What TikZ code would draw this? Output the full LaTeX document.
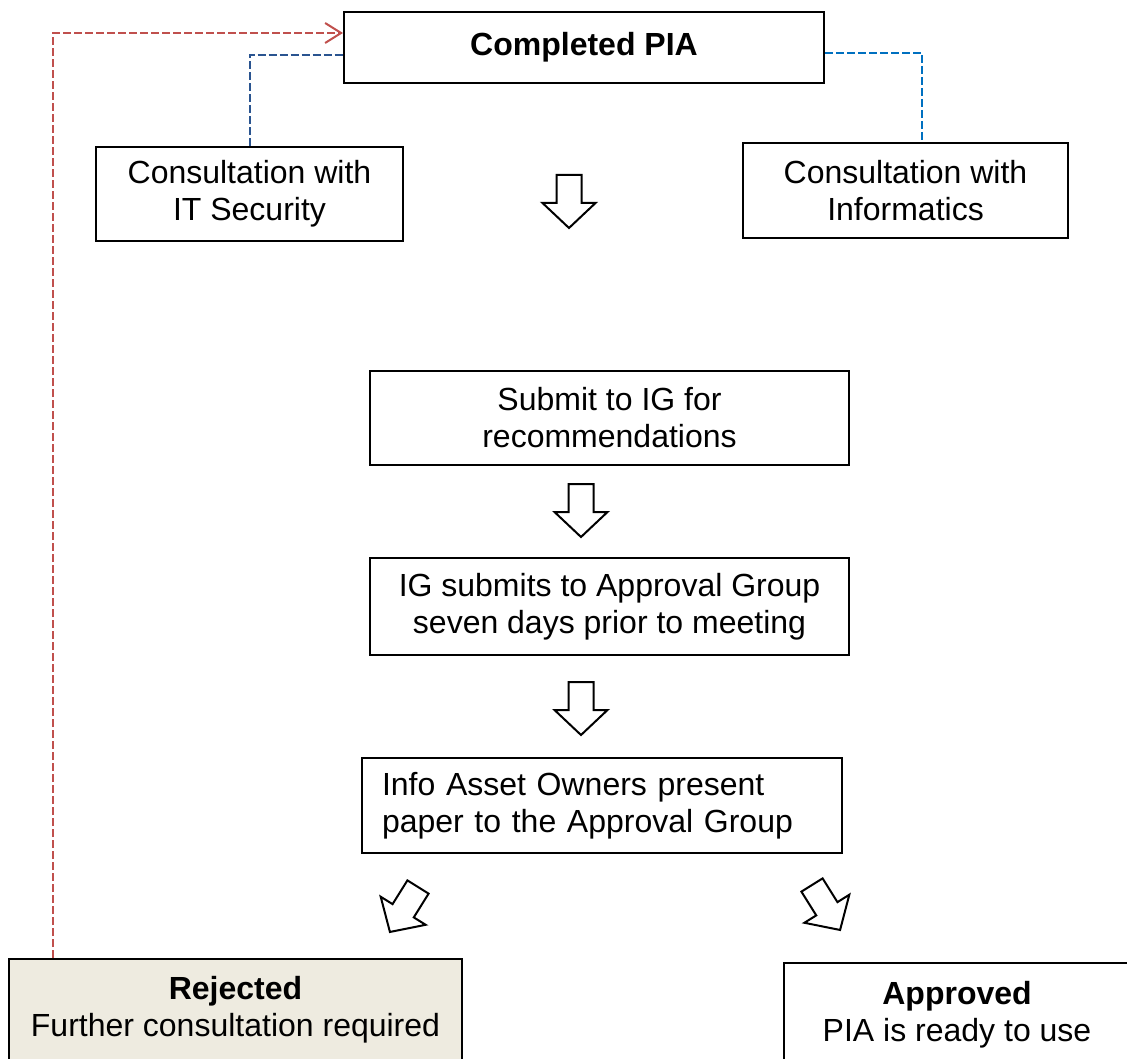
\documentclass[tikz,border=0pt]{standalone}
\usepackage{fontspec}
\setmainfont{Liberation Sans}
\usetikzlibrary{
  arrows.meta, % for the barbed tip of the feedback line
}
\definecolor{backred}{HTML}{C0504D}
\definecolor{secblue}{HTML}{2A5490}
\definecolor{infblue}{HTML}{0070C0}
\definecolor{rejfill}{HTML}{EEEBE0}
\tikzset{
  stage/.style={ % style for each stage of the process
    rectangle,draw,line width=1pt, % drawn as a plain black box
    inner sep=0pt, % the size comes from minimum width/height
    align=center, % centre every line of text
    font=\fontsize{16}{18.5}\selectfont,
  },
  consult/.style={ % style for the dashed consultation lines
    dashed,dash pattern=on 4pt off 1.5pt,
    line width=1pt,
  },
  feedback/.style={ % style for the line back to the start
    consult,backred,
    -{Straight Barb[length=8pt,width=10pt]}, % open barbed tip
  },
  flow/.pic={ % hollow block arrow, hung from its top centre
    \draw[line width=1pt,fill=white] (-6.25pt,0) -- (6.25pt,0) -- (6.25pt,-14pt)
      -- (13.25pt,-14pt) -- (0,-26.5pt) -- (-13.25pt,-14pt) -- (-6.25pt,-14pt) -- cycle;
  },
}
\begin{document}
\begin{tikzpicture}[x=0.5pt,y=-0.5pt]
	\useasboundingbox (0,0) rectangle (1127,1058);
	
	\node (pia) [stage,minimum width=240pt,minimum height=35.5pt] at (584,47.5) {\bfseries Completed PIA};
	
	\node (its) [stage,minimum width=153.5pt,minimum height=47pt] at (249.5,194) {Consultation with\\IT Security};
	
	\node (inf) [stage,minimum width=162.5pt,minimum height=47.5pt] at (905.5,190.5) {Consultation with\\Informatics};
	
	\node (sub) [stage,minimum width=239.5pt,minimum height=47pt] at (609.5,418) {Submit to IG for\\recommendations};
	
	\node (igs) [stage,minimum width=239.5pt,minimum height=48.5pt] at (609.5,606.5) {IG submits to Approval Group\\seven days prior to meeting};
	
	\node (iao) [stage,minimum width=240pt,minimum height=47.5pt,align=left,text width=220pt,inner xsep=10pt] at (602,805.5) {Info Asset Owners present\\paper to the Approval Group};
	
	\node (rej) [stage,fill=rejfill,minimum width=226.5pt,minimum height=51pt] at (235.5,1010) {\bfseries Rejected\\Further consultation required};
	
	\node (app) [stage,minimum width=173pt,minimum height=52pt] at (957,1015) {\bfseries Approved\\PIA is ready to use};
	
	\pic at (569,175) {flow};
	\pic at (581,484) {flow};
	\pic at (581,682) {flow};
	\pic[rotate=-32] at (418,887) {flow};
	\pic[rotate=32] at (812,885) {flow};
	
	\draw[feedback] ([xshift=22.5pt]rej.north west) |- ([yshift=7.25pt]pia.west);
	\draw[consult,secblue] (its.north) |- ([yshift=-3.75pt]pia.west);
	\draw[consult,infblue] ([yshift=-2.75pt]pia.east) -| ([xshift=8.25pt]inf.north);
\end{tikzpicture}
\end{document}
